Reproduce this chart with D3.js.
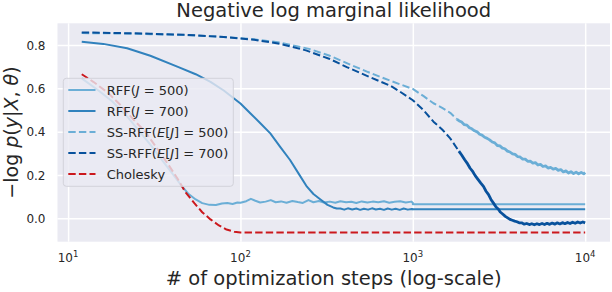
<!DOCTYPE html>
<html><head><meta charset="utf-8">
<script src="https://cdn.jsdelivr.net/npm/d3@7"></script>
<style>
body{margin:0;background:#fff}
svg{display:block;font-family:"DejaVu Sans",sans-serif}
</style>
</head><body>
<svg id="c" width="612" height="292"></svg>
<script>
// ---------- data ----------
const titleText = "Negative log marginal likelihood";
const xLabelText = "# of optimization steps (log-scale)";
const xTicks = [10, 100, 1000, 10000];
const xTickExps = ["1", "2", "3", "4"];
const yTicks = [0.0, 0.2, 0.4, 0.6, 0.8];

const rff500 = [[12,0.646],[15,0.59],[18,0.54],[22,0.47],[26,0.40],[30,0.34],[35,0.27],[40,0.21],[45,0.155],[50,0.112],[55,0.087],[60,0.07],[66,0.062],[72,0.061],[78,0.068],[84,0.071],[90,0.066],[96,0.073],
 [100,0.072],[108,0.079],[115,0.090],[122,0.081],[130,0.073],[140,0.077],[150,0.084],[160,0.074],[172,0.078],[185,0.072],[200,0.080],[215,0.075],[230,0.071],[248,0.084],[265,0.074],[285,0.080],[305,0.073],[330,0.077],[355,0.072],[380,0.079],[410,0.074],[440,0.076],[470,0.071],[505,0.078],[545,0.073],[585,0.077],[630,0.074],[680,0.079],[730,0.072],[785,0.076],[845,0.079],[910,0.073],[980,0.077],[1000,0.072],
 [1000,0.065],[10000,0.065]];

const rff700 = [[12,0.815],[16,0.805],[22,0.785],[30,0.75],[43,0.70],[55,0.665],[67,0.63],[80,0.59],[100,0.53],[114,0.485],[130,0.44],[149,0.392],[170,0.33],[194,0.269],[218,0.205],[243,0.146],[265,0.112],[290,0.088],[320,0.062],[345,0.05],
 [362,0.045],[380,0.045],[400,0.040],[420,0.046],[445,0.041],[470,0.045],[495,0.039],[520,0.044],[550,0.040],[580,0.046],[610,0.041],[645,0.044],[680,0.039],[715,0.045],[755,0.040],[795,0.044],[840,0.039],[885,0.045],[935,0.040],[985,0.043],[1000,0.041],
 [1000,0.042],[10000,0.042]];

const ss500 = [[12,0.855],[20,0.853],[30,0.85],[50,0.845],[80,0.837],[120,0.826],[170,0.811],[250,0.782],[330,0.75],[414,0.716],[550,0.675],[740,0.635],[1000,0.597],[1150,0.565],[1318,0.531],[1480,0.51],[1648,0.487],
 [1800,0.458],[1860,0.449],[1920,0.444],[1990,0.432],[2060,0.430],[2130,0.418],[2200,0.413],[2280,0.404],[2360,0.399],[2440,0.388],[2520,0.384],[2610,0.374],[2700,0.369],[2790,0.362],[2890,0.352],[2990,0.348],[3090,0.336],[3200,0.334],[3310,0.324],[3420,0.321],[3540,0.310],[3660,0.306],[3790,0.297],[3920,0.295],[4050,0.285],[4190,0.283],[4340,0.273],[4490,0.273],[4640,0.263],[4800,0.264],[4970,0.255],[5140,0.257],[5320,0.246],[5500,0.249],[5690,0.239],[5890,0.242],[6090,0.232],[6300,0.235],[6520,0.227],[6750,0.230],[6980,0.221],[7220,0.225],[7470,0.214],[7730,0.219],[8000,0.209],[8270,0.215],[8560,0.206],[8860,0.213],[9160,0.205],[9480,0.212],[9810,0.205],[10000,0.211]];

const ss700 = [[12,0.858],[20,0.855],[30,0.852],[50,0.846],[80,0.837],[120,0.824],[170,0.805],[240,0.775],[330,0.735],[414,0.698],[550,0.655],[741,0.612],[841,0.585],[1000,0.545],[1150,0.50],[1318,0.446],[1480,0.41],[1648,0.369],
 [1850,0.31],[1920,0.292],[2000,0.270],[2060,0.256],[2150,0.231],[2230,0.215],[2300,0.197],[2400,0.177],[2480,0.162],[2570,0.147],[2660,0.125],[2750,0.109],[2840,0.087],[2938,0.070],[3040,0.052],[3130,0.043],[3214,0.029],[3320,0.020],[3440,0.009],[3550,0.002],[3660,-0.005],[3780,-0.009],[3900,-0.013],[4018,-0.016],[4140,-0.021],[4280,-0.021],
 [4430,-0.027],[4580,-0.024],[4740,-0.029],[4900,-0.025],[5070,-0.030],[5250,-0.025],[5430,-0.029],[5620,-0.024],[5810,-0.029],[6010,-0.023],[6220,-0.028],[6440,-0.022],[6660,-0.027],[6890,-0.021],[7130,-0.026],[7380,-0.020],[7630,-0.025],[7900,-0.019],[8170,-0.024],[8450,-0.018],[8750,-0.023],[9050,-0.017],[9360,-0.022],[9690,-0.017],[10000,-0.021]];

const cholesky = [[12,0.665],[14,0.63],[17,0.58],[20,0.525],[24,0.455],[28,0.40],[33,0.32],[38,0.25],[43,0.185],[48,0.12],[54,0.07],[60,0.028],[67,-0.005],[75,-0.033],[83,-0.052],[92,-0.062],[100,-0.065],[10000,-0.065]];

const seriesData = [rff500, rff700, ss500, ss700, cholesky];
const seriesLabels = [
  [["RFF(",0],["J",1],[" = 500)",0]],
  [["RFF(",0],["J",1],[" = 700)",0]],
  [["SS-RFF(",0],["E",1],["[",0],["J",1],["] = 500)",0]],
  [["SS-RFF(",0],["E",1],["[",0],["J",1],["] = 700)",0]],
  [["Cholesky",0]]
];
const seriesColors = ["#6baed6", "#3182bd", "#6baed6", "#08519c", "#cb181d"];
const seriesDashed = [false, false, true, true, true];
// step from which the dense noisy tail blurs the dashes into a solid band
const seriesNoisyFrom = [null, null, 1800, 1850, null];

// ---------- layout ----------
const P = {l: 57.5, r: 610, t: 23.3, b: 241.7};
const textColor = "#262626";
const svg = d3.select("#c");

const x = d3.scaleLog().domain([Math.pow(10,0.9385), Math.pow(10,4.144)]).range([P.l, P.r]);
const y = d3.scaleLinear().domain([-0.108, 0.900]).range([P.b, P.t]);

svg.append("rect").attr("x",P.l).attr("y",P.t).attr("width",P.r-P.l).attr("height",P.b-P.t).attr("fill","#eaeaf2");

const xAxis = d3.axisBottom(x).tickValues(xTicks).tickSize(-(P.b-P.t)).tickFormat("");
const gx = svg.append("g").attr("transform",`translate(0,${P.b})`).call(xAxis);
gx.select(".domain").remove();
gx.selectAll(".tick line").attr("stroke","#fff").attr("stroke-width",1.5);

const yAxis = d3.axisLeft(y).tickValues(yTicks).tickSize(-(P.r-P.l)).tickFormat(d3.format(".1f"));
const gy = svg.append("g").attr("transform",`translate(${P.l},0)`).call(yAxis);
gy.select(".domain").remove();
gy.selectAll(".tick line").attr("stroke","#fff").attr("stroke-width",1.5);
gy.selectAll(".tick text").attr("x",-12).attr("fill",textColor).attr("font-size","12px").attr("font-family","DejaVu Sans").attr("dy","0.35em");

// x tick labels with superscripts
xTicks.forEach((t,i)=>{
  const tx = svg.append("text").attr("x",x(t)).attr("y",262).attr("text-anchor","middle")
    .attr("fill",textColor).attr("font-size","12px");
  tx.append("tspan").text("10");
  tx.append("tspan").attr("dy",-5).attr("font-size","8.5px").text(xTickExps[i]);
});

// lines
svg.append("clipPath").attr("id","pc").append("rect").attr("x",P.l).attr("y",P.t).attr("width",P.r-P.l).attr("height",P.b-P.t);
const line = d3.line().x(d=>x(d[0])).y(d=>y(d[1]));
const gl = svg.append("g").attr("clip-path","url(#pc)");
seriesData.forEach((s,i)=>{
  const nf = seriesNoisyFrom[i];
  const head = nf ? s.filter(d=>d[0] <= nf) : s;
  gl.append("path").datum(head).attr("d",line).attr("fill","none")
    .attr("stroke",seriesColors[i]).attr("stroke-width",2)
    .attr("stroke-dasharray",seriesDashed[i]?"7.4,3.2":null)
    .attr("stroke-linejoin","round");
  if (nf) {
    const tail = s.filter(d=>d[0] >= nf);
    gl.append("path").datum(tail).attr("d",line).attr("fill","none")
      .attr("stroke",seriesColors[i]).attr("stroke-width",2.8)
      .attr("stroke-linejoin","round");
  }
});

// legend
const L = {x:63.3, y:78.3, w:170, h:108};
const lg = svg.append("g");
lg.append("rect").attr("x",L.x).attr("y",L.y).attr("width",L.w).attr("height",L.h).attr("rx",3)
  .attr("fill","#eaeaf2").attr("fill-opacity",0.8).attr("stroke","#d2d2da").attr("stroke-width",1);
seriesLabels.forEach((lab,i)=>{
  const cy = 90 + i*21;
  lg.append("line").attr("x1",68.3).attr("x2",95.5).attr("y1",cy).attr("y2",cy)
    .attr("stroke",seriesColors[i]).attr("stroke-width",2)
    .attr("stroke-dasharray",seriesDashed[i]?"7.4,3.2":null);
  const t = lg.append("text").attr("x",106.7).attr("y",cy).attr("dy","0.36em")
    .attr("fill",textColor).attr("font-size","13px").attr("xml:space","preserve");
  lab.forEach(p=>{ t.append("tspan").attr("font-style",p[1]?"italic":null).text(p[0]); });
});

// title
svg.append("text").attr("x",(P.l+P.r)/2).attr("y",17).attr("text-anchor","middle")
  .attr("fill",textColor).attr("font-size","19.5px").text(titleText);
// x label
svg.append("text").attr("x",(P.l+P.r)/2).attr("y",285).attr("text-anchor","middle")
  .attr("fill",textColor).attr("font-size","19.5px").text(xLabelText);
// y label
const yl = svg.append("text").attr("transform",`translate(17.5,${(P.t+P.b)/2}) rotate(-90)`)
  .attr("text-anchor","middle").attr("fill",textColor).attr("font-size","19px").attr("xml:space","preserve");
[["\u2212log ",0],["p",1],["(",0],["y",1],["|",0],["X",1],[", ",0],["\u03b8",1],[")",0]].forEach(p=>{
  yl.append("tspan").attr("font-style",p[1]?"italic":null).text(p[0]);
});
</script>
</body></html>
